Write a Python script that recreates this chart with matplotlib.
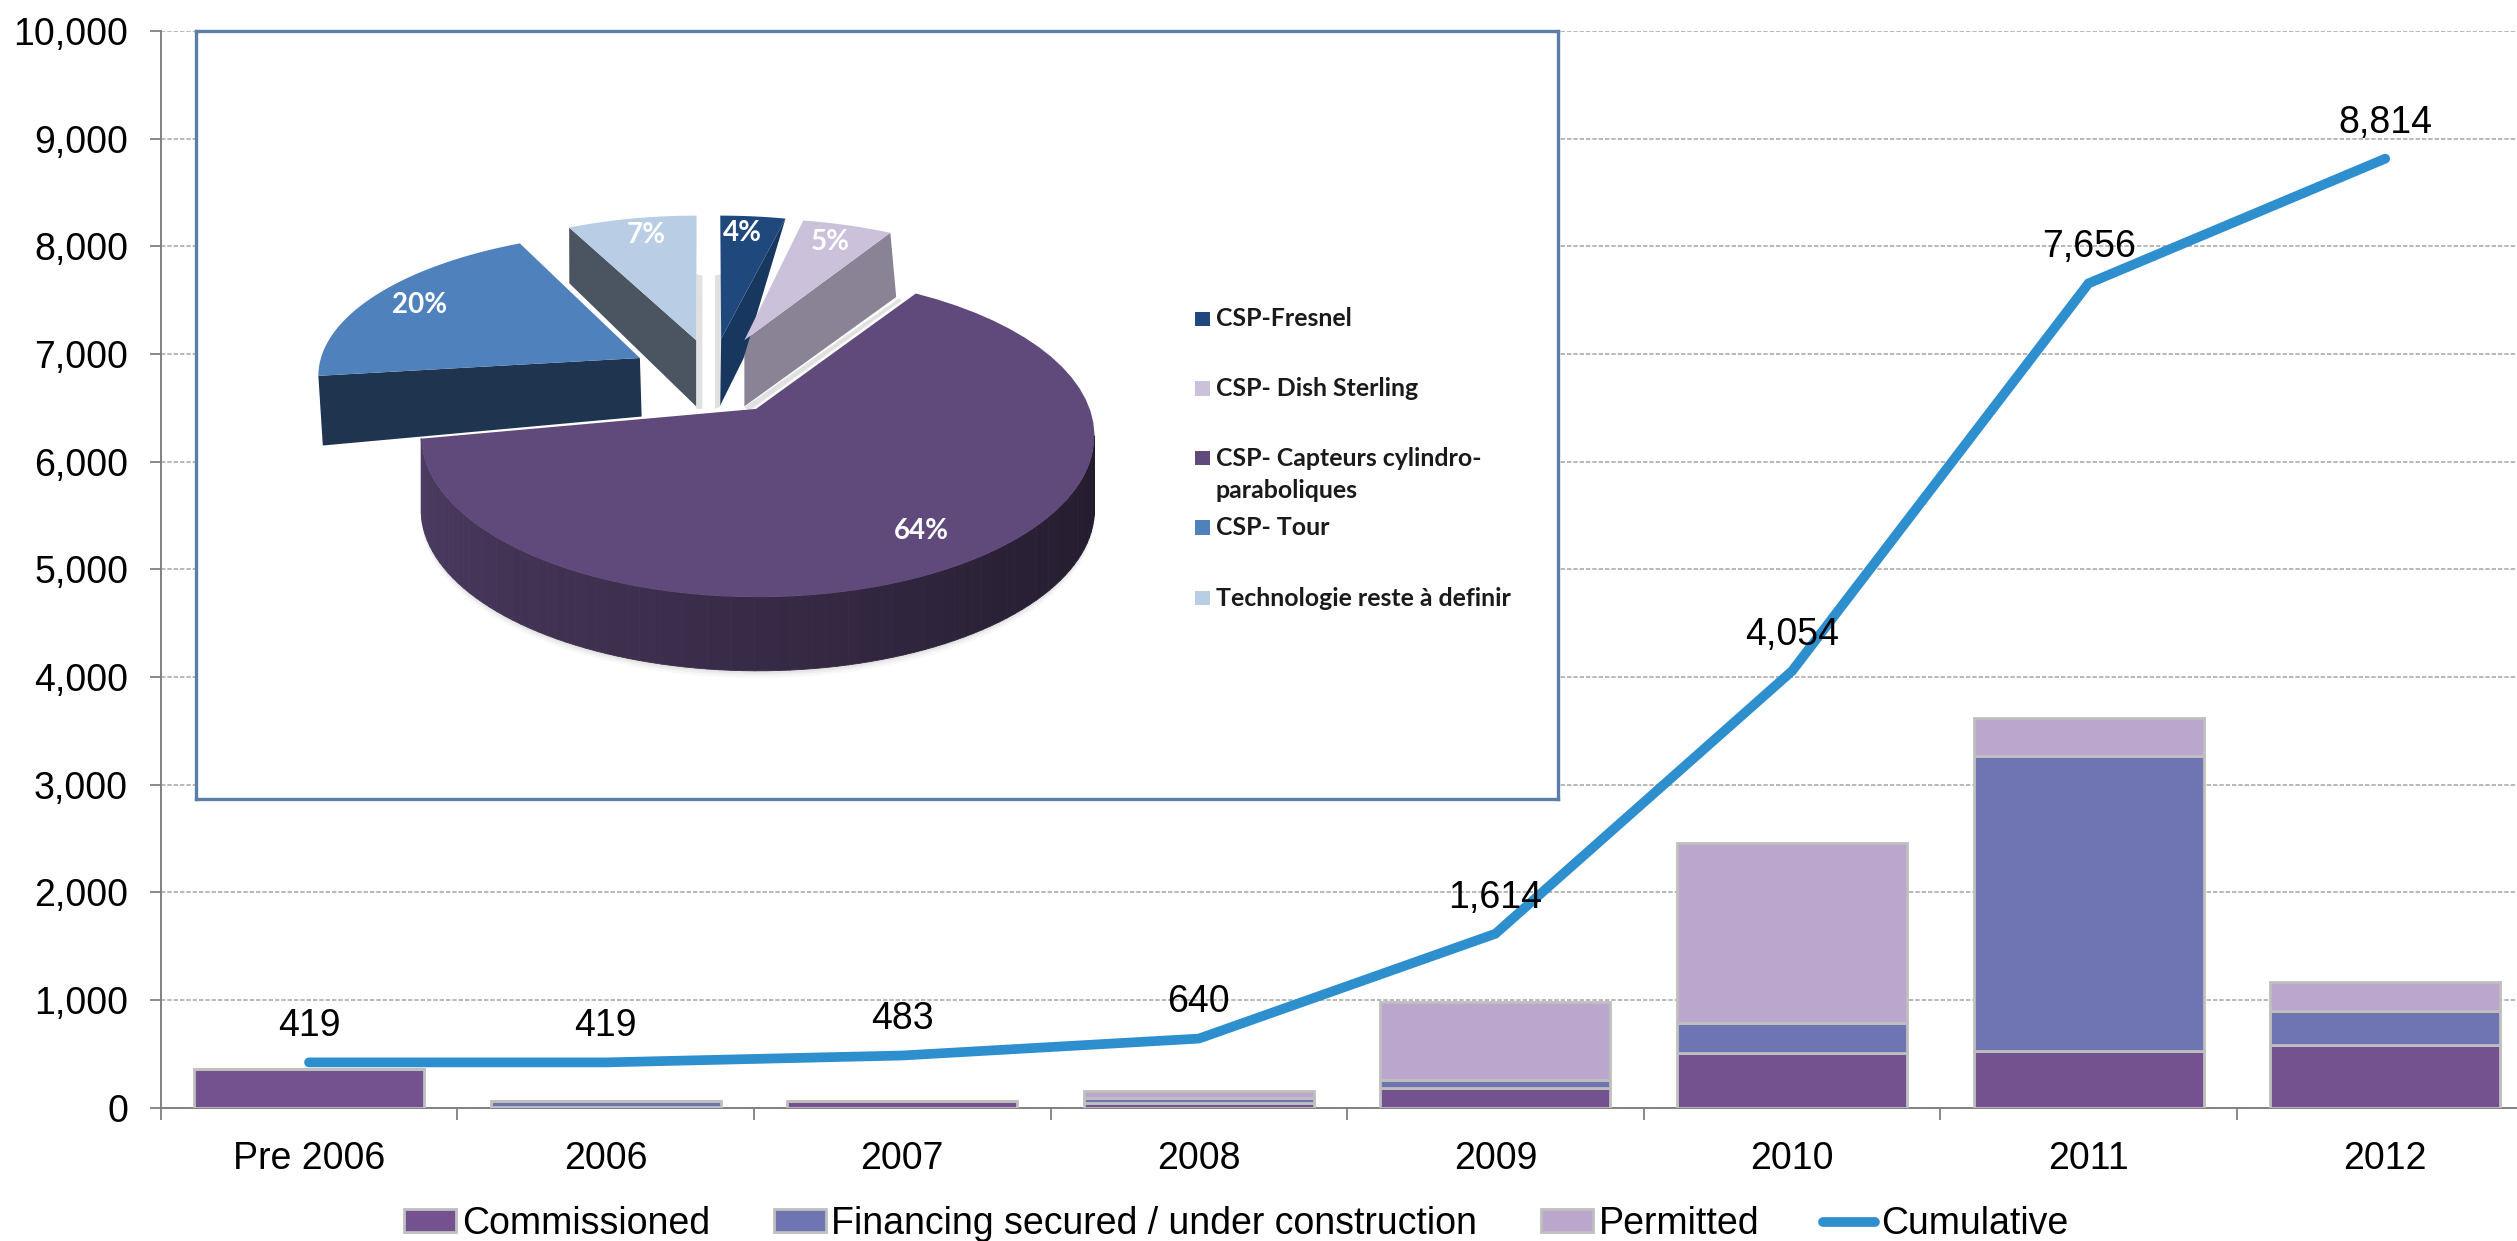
import numpy as np
import matplotlib
matplotlib.use("Agg")
import matplotlib.pyplot as plt
from matplotlib.patches import Polygon, Rectangle
from matplotlib.collections import PolyCollection
from matplotlib.colors import to_rgb

categories = ["Pre 2006", "2006", "2007", "2008", "2009", "2010", "2011", "2012"]
commissioned = [353, 5, 62, 40, 177, 503, 522, 580]
financing = [0, 55, 0, 47, 81, 281, 2746, 313]
permitted = [0, 0, 0, 62, 726, 1674, 351, 275]
cumulative = [419, 419, 483, 640, 1614, 4054, 7656, 8814]
y_ticks = [0, 1000, 2000, 3000, 4000, 5000, 6000, 7000, 8000, 9000, 10000]

pie_labels = ["CSP-Fresnel", "CSP- Dish Sterling", "CSP- Capteurs cylindro-\nparaboliques", "CSP- Tour", "Technologie reste à definir"]
pie_values = [4, 5, 64, 20, 7]
pie_colors = ["#1F497D", "#CCC1DA", "#604A7B", "#4F81BD", "#B9CDE5"]

W, H = 2517, 1241
plt.rcParams["font.family"] = ["Liberation Sans", "DejaVu Sans"]
fig = plt.figure(figsize=(W / 100, H / 100), dpi=100, facecolor="white")
FS = 27

L, R, T, B = 160.7, 2533.5, 31, 1107.5
ax = fig.add_axes([L / W, 1 - B / H, (R - L) / W, (B - T) / H])
x = np.arange(len(categories))
com, fin, per = map(np.array, (commissioned, financing, permitted))
EDGE = "#BFBFBF"
kw = dict(width=0.775, edgecolor=EDGE, linewidth=2.0, zorder=3)
ax.bar(x, com, color="#745290", label="Commissioned", **kw)
ax.bar(x, fin, bottom=com, color="#6F74B2", label="Financing secured / under construction", **kw)
ax.bar(x, per, bottom=com + fin, color="#BBA6CE", label="Permitted", **kw)
ax.plot(x, cumulative, color="#2E8FCF", lw=7, solid_capstyle="round", solid_joinstyle="miter",
        label="Cumulative", zorder=4)
for xi, v in zip(x, cumulative):
    ax.annotate(f"{v:,}", (xi, v), xytext=(0, 26), textcoords="offset points", ha="center", va="center",
                fontsize=FS, color="black", zorder=5)

ax.set_xlim(-0.5, len(categories) - 0.5)
ax.set_ylim(0, 10000)
ax.set_yticks(y_ticks)
ax.set_yticklabels([f"{v:,}" for v in y_ticks], fontsize=FS)
ax.set_xticks(x)
ax.set_xticklabels(categories, fontsize=FS)
ax.set_xticks(np.arange(-0.5, len(categories)), minor=True)
ax.tick_params(axis="x", which="major", length=0, pad=24)
ax.tick_params(axis="x", which="minor", length=8.5, width=1.3, color="#808080")
ax.tick_params(axis="y", length=8, width=1.3, color="#808080", pad=15.5)
ax.grid(axis="y", color="#ABABAB", lw=1.2, ls=(0, (2.6, 1.2)), zorder=1)
ax.set_axisbelow(True)
for s in ("top", "right"):
    ax.spines[s].set_visible(False)
for s in ("left", "bottom"):
    ax.spines[s].set_color("#808080")
    ax.spines[s].set_linewidth(1.4)

handles, labels = ax.get_legend_handles_labels()
order = [labels.index(n) for n in ("Commissioned", "Financing secured / under construction", "Permitted", "Cumulative")]
fig.legend([handles[i] for i in order], [labels[i] for i in order], loc="center",
           bbox_to_anchor=(1236 / W, 1 - 1224 / H), ncol=4,
           frameon=False, fontsize=FS, handlelength=1.39, handleheight=0.55, handletextpad=0.15,
           columnspacing=1.7, borderaxespad=0, borderpad=0)

# inset panel, coordinates are a local panel grid
bx0, bx1, by0, by1 = 196, 1558, 31, 799
ins = fig.add_axes([bx0 / W, 1 - by1 / H, (bx1 - bx0) / W, (by1 - by0) / H], zorder=10)
ins.set_xlim(18, 1543)
ins.set_ylim(1532, 22)
ins.set_xticks([])
ins.set_yticks([])
ins.set_facecolor("white")
for s in ins.spines.values():
    s.set_color("#5B7DA6")
    s.set_linewidth(2.4)


def arc(cx, cy, a, b, start, sweep, n=60):
    t = np.radians(np.linspace(start, start + sweep, n))
    return np.column_stack([cx + a * np.sin(t), cy - b * np.cos(t)])


def shade(c, f):
    return tuple(v * f for v in to_rgb(c))


# per-slice perspective: apex, ellipse centre, radii, start angle, sweep stretch
geom = [
    dict(apex=(606, 627), c=(605, 690), r=(375, 305), start=0, k=0.78),
    dict(apex=(632, 630), c=(632, 685), r=(380, 295), start=10, k=0.86),
    dict(apex=(645, 765), c=(647, 818), r=(377, 317), start=28, k=1.046),
    dict(apex=(515, 665), c=(535, 700), r=(380, 285), start=270, k=0.917),
    dict(apex=(578, 630), c=(578, 690), r=(370, 305), start=-22.6, k=0.9),
]
rims = [arc(*g["c"], *g["r"], g["start"], v * 3.6 * g["k"]) for g, v in zip(geom, pie_values)]
tops = [np.vstack([rim, [g["apex"]]]) for rim, g in zip(rims, geom)]

# slim drop shadows beside the pulled-out slices
for pts in ([(578, 500), (585, 503), (585, 765), (578, 765)], [(599, 503), (606, 500), (606, 760), (599, 765)],
            [(632, 762), (805, 548), (809, 551), (638, 768)]):
    ins.add_patch(Polygon(pts, closed=True, fc="#B5B5B5", ec="none", alpha=0.4, zorder=1.5))

# cut faces of the pulled-out slices
face_tour = np.array([rims[3][0], geom[3]["apex"], (517, 780), (160, 837)])
face_tech = np.array([rims[4][0], geom[4]["apex"], (578, 760), (436, 518)])
face_dish = np.array([rims[1][-1], geom[1]["apex"], (632, 760), (802, 545)])
face_fres = np.array([rims[0][-1], geom[0]["apex"], (605, 758), (631, 666)])
for pts, col in [(face_tech, "#4A5561"), (face_tour, "#1F344F"), (face_dish, "#8A8295"), (face_fres, "#17375E")]:
    ins.add_patch(Polygon(pts, closed=True, fc=col, ec="none", zorder=2))
for i in (4, 3, 1, 0):
    ins.add_patch(Polygon(tops[i], closed=True, fc=pie_colors[i], ec="none", zorder=3))

# soft shadow and curved wall of the main slice
g = geom[2]
wall = arc(*g["c"], *g["r"], 90, 179, 90)
depth = 145
for off, al in [(14, 0.05), (9, 0.07), (5, 0.09)]:
    sh = np.vstack([wall + (0, off), (wall + (0, depth + off))[::-1]])
    ins.add_patch(Polygon(sh, closed=True, fc="#808080", ec="none", alpha=al, zorder=3.5))
quads = []
cols = []
fr = np.linspace(0, 1, len(wall) - 1)
stops = np.interp(fr, [0, 0.25, 0.6, 1], [0.36, 0.45, 0.62, 0.8])
for j in range(len(wall) - 1):
    p, q = wall[j], wall[j + 1]
    quads.append([p, q, q + (0, depth), p + (0, depth)])
    cols.append(shade(pie_colors[2], stops[j]))
ins.add_collection(PolyCollection(quads, facecolors=cols, edgecolors=cols, linewidths=0.6, zorder=4))
ins.add_patch(Polygon(tops[2], closed=True, fc=pie_colors[2], ec="none", zorder=5))
ins.plot([rims[2][0][0], geom[2]["apex"][0]], [rims[2][0][1], geom[2]["apex"][1]], color="white", lw=2.5, zorder=4.5)

# slice labels
label_xy = [(630, 420), (728, 437), (830, 1005), (268, 560), (522, 423)]
for (lx, ly), v in zip(label_xy, pie_values):
    ins.text(lx, ly, f"{v}%", color="white", fontsize=20, fontweight="bold", family="Lato",
             ha="center", va="center", zorder=6)

# panel key
key_y = [588, 725, 862, 998, 1137]
for yk, lab, col in zip(key_y, pie_labels, pie_colors):
    ins.add_patch(Rectangle((1137, yk - 14), 16, 28, fc=col, ec="none", zorder=6))
    ins.text(1160, yk, lab.split("\n")[0], fontsize=17.9, fontweight="bold", family="Lato", color="#1a1a1a",
             ha="left", va="center", zorder=6)
    if "\n" in lab:
        ins.text(1160, yk + 63, lab.split("\n")[1], fontsize=17.9, fontweight="bold", family="Lato",
                 color="#1a1a1a", ha="left", va="center", zorder=6)

fig.savefig("out.png", dpi=100, facecolor="white")
